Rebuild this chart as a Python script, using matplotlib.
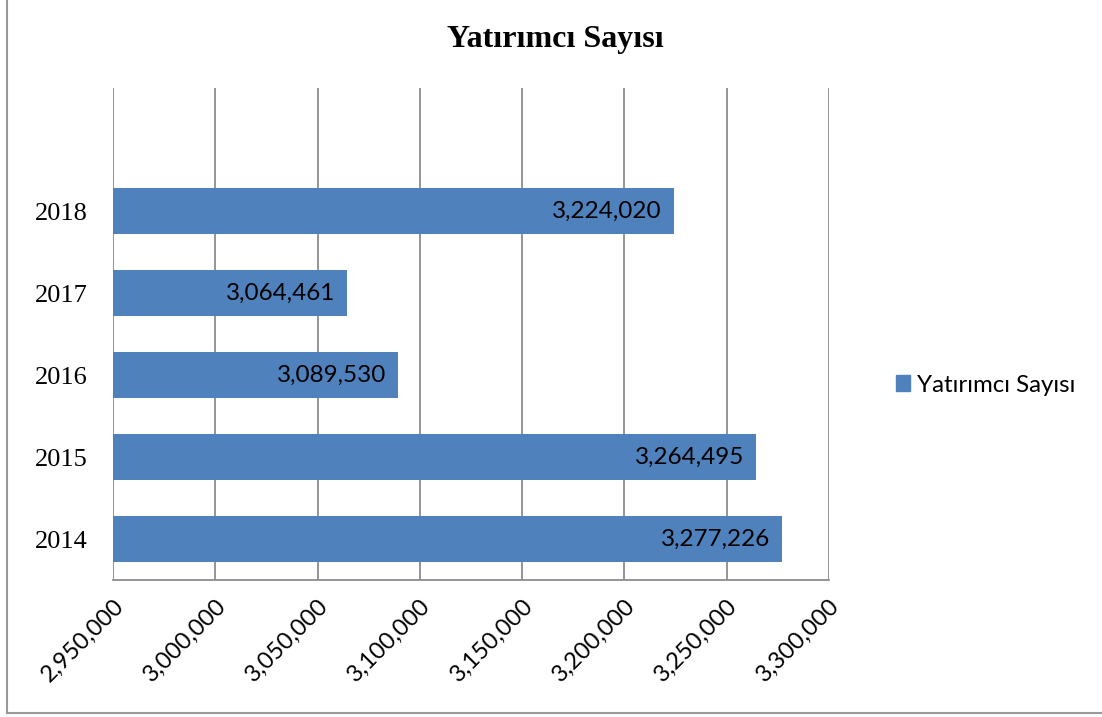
import matplotlib.pyplot as plt
from matplotlib.lines import Line2D
from matplotlib.patches import Patch
from matplotlib.ticker import FuncFormatter

years = ['2014', '2015', '2016', '2017', '2018']
investors = [3277226, 3264495, 3089530, 3064461, 3224020]
x_ticks = [2950000, 3000000, 3050000, 3100000, 3150000, 3200000, 3250000, 3300000]

bar_color = '#4F81BD'
grid_color = '#8C8C8C'
sans = ['Lato', 'DejaVu Sans']
serif = ['Liberation Serif', 'DejaVu Serif']

fig = plt.figure(figsize=(11.02, 7.17), dpi=100)
W, H = 1102, 717
ax = fig.add_axes([113 / W, 1 - 580 / H, (829 - 113) / W, (580 - 88) / H])

pos = list(range(len(years)))
ax.barh(pos, [v - x_ticks[0] for v in investors], left=x_ticks[0],
        height=0.56, color=bar_color, zorder=3)

for p, v in zip(pos, investors):
    ax.text(v - 6000, p, f'{v:,}', ha='right', va='center',
            fontsize=17.5, family=sans, color='black', zorder=4)

ax.set_xlim(x_ticks[0], x_ticks[-1])
ax.set_ylim(-0.5, 5.5)
ax.set_xticks(x_ticks)
ax.xaxis.set_major_formatter(FuncFormatter(lambda x, _: f'{int(x):,}'))
ax.set_yticks(pos)
ax.set_yticklabels(years, family=serif, fontsize=19)
for lab in ax.get_xticklabels():
    lab.set_rotation(45)
    lab.set_ha('right')
    lab.set_rotation_mode('anchor')
    lab.set_family(sans)
    lab.set_fontsize(17)

ax.tick_params(axis='both', length=0)
ax.tick_params(axis='x', pad=11)
ax.tick_params(axis='y', pad=18)
ax.grid(axis='x', color=grid_color, linewidth=1.3, zorder=0)
for s in ['top', 'right', 'left']:
    ax.spines[s].set_visible(False)
ax.spines['bottom'].set_color(grid_color)
ax.spines['bottom'].set_linewidth(1.3)

fig.text(555 / W, 1 - 40 / H, 'Yatırımcı Sayısı', ha='center', va='center',
         fontsize=23, fontweight='bold', family=serif)

fig.legend(handles=[Patch(color=bar_color, label='Yatırımcı Sayısı')],
           loc='center left', bbox_to_anchor=(874 / W, 1 - 385 / H),
           frameon=False, prop={'family': sans, 'size': 17.3},
           handlelength=0.6, handleheight=0.6, handletextpad=0.3)

# figure border (only left and bottom visible in the reference)
fig.add_artist(Line2D([7 / W, 7 / W], [1 - 713 / H, 1], transform=fig.transFigure,
                      color='#9A9A9A', linewidth=1.5))
fig.add_artist(Line2D([7 / W, 1], [1 - 713 / H, 1 - 713 / H], transform=fig.transFigure,
                      color='#9A9A9A', linewidth=1.5))

fig.savefig('out.png', dpi=100)
